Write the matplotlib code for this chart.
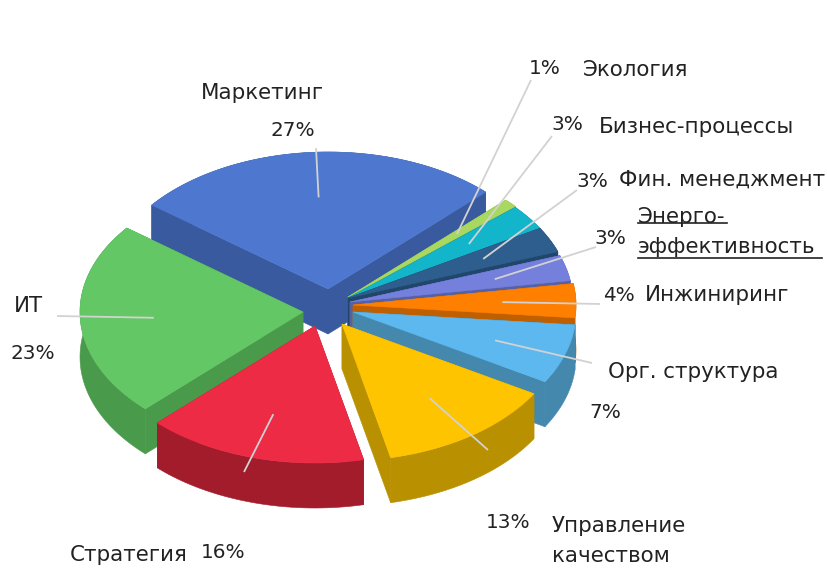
import numpy as np
import matplotlib
matplotlib.use("Agg")
import matplotlib.pyplot as plt
from matplotlib.patches import Polygon

plt.rcParams['font.family'] = ['DejaVu Sans']

# clockwise, starting from Marketing
categories = ["Маркетинг", "Экология", "Бизнес-процессы", "Фин. менеджмент",
              "Энерго-\nэффективность", "Инжиниринг", "Орг. структура",
              "Управление\nкачеством", "Стратегия", "ИТ"]
values = [27, 1, 3, 3, 3, 4, 7, 13, 16, 23]

top_colors = ["#4E78D0", "#A9D860", "#12B5C9", "#2D5E8E", "#7480DC",
              "#FF7F00", "#5CB8EE", "#FFC400", "#EE2B45", "#62C764"]
side_colors = ["#3A5AA0", "#7FA548", "#0E8C9C", "#20466C", "#5560A5",
               "#C05F00", "#4488AE", "#B89000", "#A31C2C", "#4A9A4C"]

# slice apex in pixels (exploded pie), label positions
apex = [(328, 289), (348, 297), (348, 298), (348, 298), (350, 302),
        (353, 305), (353, 312), (342, 324), (315, 326), (303, 312)]
leader_end = [(316, 148), (531, 80), (552, 136), (577, 190), (596, 247),
              (600, 304), (592, 363), (488, 450), (244, 472), (57, 316)]
pct_pos = [(293, 130), (545, 68), (567, 124), (592, 181), (610, 238),
           (619, 295), (605, 412), (508, 523), (223, 553), (33, 353)]
name_pos = [(201, 93), (583, 70), (599, 127), (619, 180), (638, 232),
            (645, 295), (608, 372), (552, 541), (70, 555), (14, 306)]
draw_order = [0, 1, 2, 3, 4, 5, 6, 9, 8, 7]

RX, RY = 223, 137
DEPTH = 45
START = -52.2
NAME_FONT = 15.4
PCT_FONT = 14.4

fig = plt.figure(figsize=(8.27, 5.69), dpi=100)
ax = fig.add_axes([0, 0, 1, 1])
ax.set_xlim(0, 827)
ax.set_ylim(569, 0)
ax.axis('off')

edges = START + np.cumsum([0] + values) * 3.6


def point(i, ang, f=1.0):
    a = np.radians(ang)
    return apex[i][0] + f * RX * np.sin(a), apex[i][1] - f * RY * np.cos(a)


for i in draw_order:
    angs = np.linspace(edges[i], edges[i + 1], 60)
    xs, ys = point(i, angs)
    arc = np.column_stack([xs, ys])
    tip = np.array(apex[i], dtype=float)
    low = np.array([0, DEPTH])
    # two radial faces, the outer wall, then the top
    for p in (arc[0], arc[-1]):
        ax.add_patch(Polygon([tip, p, p + low, tip + low], fc=side_colors[i],
                             ec=side_colors[i], lw=0.4))
    ax.add_patch(Polygon(np.vstack([arc, arc[::-1] + low]), fc=side_colors[i],
                         ec=side_colors[i], lw=0.4))
    ax.add_patch(Polygon(np.vstack([tip, arc]), fc=top_colors[i], ec=top_colors[i], lw=0.4))

for i in range(len(values)):
    mid = (edges[i] + edges[i + 1]) / 2
    x0, y0 = point(i, mid, 0.67)
    ax.plot([x0, leader_end[i][0]], [y0, leader_end[i][1]], color="#D2D2D2", lw=1.3,
            solid_capstyle='butt')
    ax.text(pct_pos[i][0], pct_pos[i][1], f"{values[i]}%", ha='center', va='center',
            fontsize=PCT_FONT, color="#222222")
    ax.text(name_pos[i][0], name_pos[i][1], categories[i], ha='left', va='center',
            fontsize=NAME_FONT, color="#222222", linespacing=1.58)

# underlined label
ax.plot([638, 727], [223, 223], color="#222222", lw=1.2)
ax.plot([638, 822], [258, 258], color="#222222", lw=1.2)

fig.savefig("out.png", dpi=100)
